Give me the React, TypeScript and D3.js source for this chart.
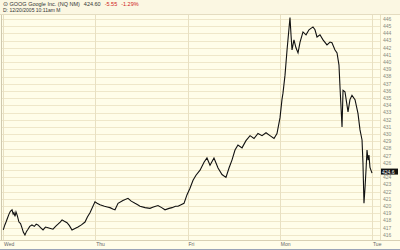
import React from "react";
import * as d3 from "d3";

// Time in trading days since Wed open, price in USD
const times: number[] = [
  0.003, 0.02, 0.033, 0.05, 0.065, 0.08, 0.098, 0.11, 0.119, 0.13, 0.141, 0.155, 0.173, 0.19, 0.206, 0.22, 0.238, 0.255, 0.271, 0.29, 0.314, 0.34, 0.36, 0.379, 0.41, 0.434, 0.46, 0.488, 0.515, 0.542, 0.57, 0.596, 0.62, 0.64, 0.665, 0.694, 0.72, 0.748, 0.78, 0.813, 0.85, 0.889, 0.915, 0.943,
  0.997, 1.02, 1.051, 1.1, 1.13, 1.16, 1.19, 1.214, 1.247, 1.3, 1.355, 1.39, 1.431, 1.46, 1.485, 1.54, 1.593, 1.63, 1.68, 1.72, 1.756, 1.8, 1.832, 1.87, 1.897, 1.93, 1.962,
  1.995, 2.027, 2.06, 2.092, 2.136, 2.179, 2.211, 2.244, 2.287, 2.331, 2.374, 2.417, 2.45, 2.482, 2.515, 2.547, 2.591, 2.634, 2.678, 2.721, 2.764, 2.808, 2.851, 2.894, 2.938, 2.97,
  3.003, 3.024, 3.035, 3.057, 3.079, 3.089, 3.111, 3.122, 3.133, 3.154, 3.176, 3.198, 3.22, 3.252, 3.285, 3.317, 3.36, 3.382, 3.404, 3.436, 3.469, 3.512, 3.545, 3.566, 3.599, 3.621, 3.642, 3.653, 3.675, 3.686, 3.707, 3.74, 3.761, 3.783, 3.816, 3.848, 3.87, 3.892, 3.902, 3.913, 3.924, 3.935, 3.946, 3.957, 3.967, 3.978, 4.0,
];
const prices: number[] = [
  416.7, 417.4, 417.8, 418.4, 418.9, 419.3, 419.5, 418.9, 419.1, 418.6, 419.2, 418.7, 417.8, 417.6, 417.0, 416.4, 416.0, 416.5, 416.8, 417.2, 417.4, 417.2, 417.5, 417.4, 417.0, 416.7, 417.1, 417.0, 416.9, 416.8, 417.2, 417.5, 417.8, 418.1, 417.9, 417.7, 417.3, 416.7, 416.9, 417.1, 417.4, 417.8, 418.5, 419.1,
  420.6, 420.4, 420.2, 420.0, 419.9, 419.8, 419.6, 419.5, 420.4, 420.8, 421.1, 420.7, 420.4, 420.2, 420.0, 419.8, 419.7, 419.9, 420.1, 419.8, 419.5, 419.7, 419.8, 420.0, 420.0, 420.2, 420.4,
  421.6, 422.5, 423.6, 424.3, 425.0, 426.1, 426.7, 425.7, 426.7, 425.3, 424.4, 424.0, 425.3, 426.4, 427.8, 428.5, 428.1, 429.1, 429.8, 429.4, 430.1, 429.8, 430.2, 429.8, 429.4, 430.1,
  432.3, 434.8, 435.7, 438.2, 441.7, 443.1, 446.2, 443.8, 441.7, 443.1, 442.0, 441.3, 442.8, 444.2, 443.8, 444.5, 444.9, 444.5, 443.5, 443.8, 443.1, 442.4, 442.8, 442.7, 441.7, 441.3, 439.6, 436.6, 431.0, 436.1, 435.9, 433.1, 434.8, 435.4, 434.8, 432.9, 430.6, 429.2, 426.0, 420.4, 422.5, 425.0, 427.8, 426.4, 427.1, 425.4, 424.6,
];

const yTicks: number[] = d3.range(416, 447);
const dayLabels: string[] = ["Wed", "Thu", "Fri", "Mon", "Tue"];
const lastPrice = 424.6;

export default function App() {
  const W = 400, H = 250;
  const x = d3.scaleLinear().domain([0, 4]).range([3, 372]);
  const y = d3.scaleLinear().domain([416, 446]).range([235, 19]);
  const pts = times.map((t, i) => [t, prices[i]] as [number, number]);
  const line = d3.line<[number, number]>().x(d => x(d[0])).y(d => y(d[1]));
  const font = "Liberation Sans, Arial, sans-serif";
  const shownTicks = yTicks.filter(v => Math.abs(v - lastPrice) > 0.5);
  return (
    <svg width={W} height={H} style={{ position: "absolute", left: 0, top: 0, display: "block" }} fontFamily={font}>
      <rect x={0} y={0} width={W} height={H} fill="#fffde9" />
      <rect x={0} y={0} width={W} height={14} fill="#fbf7e2" />
      <line x1={0} x2={W} y1={14.5} y2={14.5} stroke="#e4dcc0" />
      {yTicks.map(v => (
        <line key={v} x1={1} x2={380} y1={Math.round(y(v)) + 0.5} y2={Math.round(y(v)) + 0.5} stroke="#efe7c9" strokeWidth={1} />
      ))}
      {dayLabels.map((d, i) => (
        <line key={"v" + d} x1={Math.round(x(i)) + 0.5} x2={Math.round(x(i)) + 0.5} y1={15} y2={240} stroke="#e8e0c2" />
      ))}
      <line x1={1.5} x2={1.5} y1={15} y2={240} stroke="#cfc8ae" />
      <line x1={380.5} x2={380.5} y1={15} y2={240} stroke="#e8e0c2" />
      <line x1={0} x2={W} y1={240.5} y2={240.5} stroke="#d8d0b4" />
      <path d={line(pts) || ""} fill="none" stroke="#111" strokeWidth={1.1} strokeLinejoin="miter" />
      {shownTicks.map(v => (
        <text key={"t" + v} x={383} y={y(v) + 1.8} fontSize={5} fill="#8a8a80">{v}</text>
      ))}
      <rect x={381} y={y(lastPrice) - 4.5} width={17} height={6} fill="#111" />
      <text x={382} y={y(lastPrice) + 0.5} fontSize={5} fill="#fff">{lastPrice.toFixed(1)}</text>
      {dayLabels.map((d, i) => (
        <text key={"d" + d} x={x(i) + 1} y={246} fontSize={5} fill="#666">{d}</text>
      ))}
      <line x1={0} x2={W} y1={249.5} y2={249.5} stroke="#9aa4b8" />
      <text x={3} y={6} fontSize={5.5} fill="#333"><tspan>⊙ GOOG Google Inc. (NQ NM)</tspan><tspan dx={4}>424.60</tspan><tspan dx={4} fill="#d02020">-5.55</tspan><tspan dx={4} fill="#d02020">-1.29%</tspan></text>
      <text x={3} y={12} fontSize={5} fill="#333">D: 12/20/2005  10:11am M</text>
    </svg>
  );
}
